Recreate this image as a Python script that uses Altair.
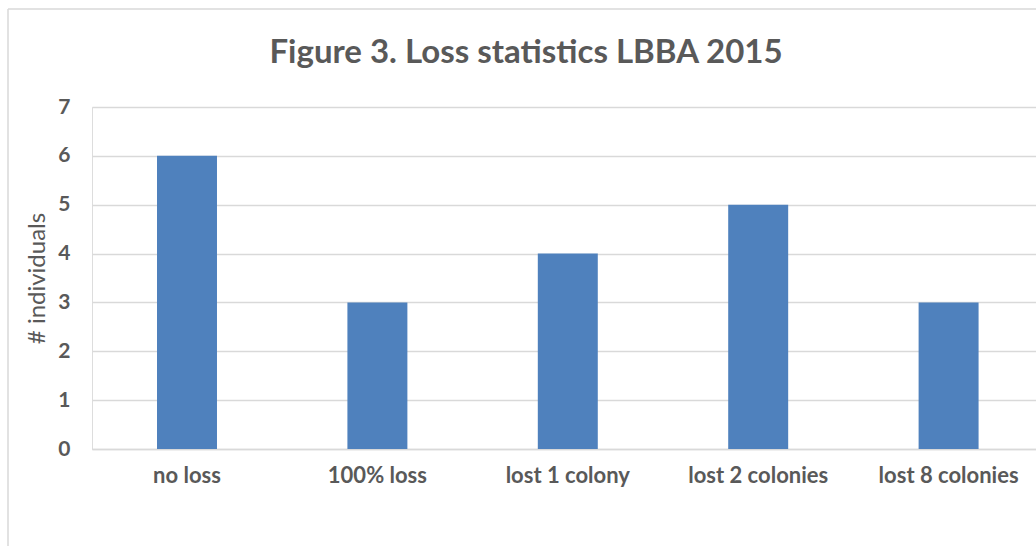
import altair as alt
import pandas as pd

categories = ["no loss", "100% loss", "lost 1 colony", "lost 2 colonies", "lost 8 colonies"]
values = [6, 3, 4, 5, 3]
y_ticks = [0, 1, 2, 3, 4, 5, 6, 7]

df = pd.DataFrame({"category": categories, "count": values})

GRAY = "#595959"
GRID = "#d9d9d9"
FONT = "Lato"

bars = alt.Chart(df).mark_bar(color="#4f81bd").encode(
    x=alt.X("category:N", sort=categories,
            scale=alt.Scale(paddingInner=0.685, paddingOuter=0.3215, align=0.531),
            axis=alt.Axis(title=None, labelAngle=0, labelFont=FONT, labelFontSize=22,
                          labelFontWeight="bold", labelColor=GRAY, labelPadding=16,
                          ticks=False, domainColor=GRID, domainWidth=1.5, grid=False)),
    y=alt.Y("count:Q", scale=alt.Scale(domain=[0, 7]),
            axis=alt.Axis(title="# individuals", values=y_ticks, titleFont=FONT,
                          titleFontSize=24, titleFontWeight="normal", titleColor=GRAY,
                          titlePadding=8, labelFont=FONT, labelFontSize=21,
                          labelFontWeight="bold", labelColor=GRAY, labelPadding=22,
                          ticks=False, domain=False, grid=True, gridColor=GRID,
                          gridWidth=1.5)),
)

one = alt.Data(values=[{}])
left_border = alt.Chart(one).mark_rule(color=GRID, strokeWidth=1.5).encode(
    x=alt.value(-84), y=alt.value(-98), y2=alt.value(460))
top_border = alt.Chart(one).mark_rule(color=GRID, strokeWidth=1.5).encode(
    y=alt.value(-98), x=alt.value(-84), x2=alt.value(960))

chart = alt.layer(left_border, top_border, bars).properties(
    width=944, height=342,
    padding={"left": 92, "top": 107, "right": 0, "bottom": 97},
    autosize=alt.AutoSizeParams(type="none"),
    title=alt.TitleParams("Figure 3. Loss statistics LBBA 2015", font=FONT, fontSize=33,
                          fontWeight="bold", color=GRAY, anchor="middle", dx=-38,
                          offset=-62),
).configure_view(stroke=None).configure(background="white")

chart.save("out.html", embed_options={"renderer": "svg", "actions": False})
